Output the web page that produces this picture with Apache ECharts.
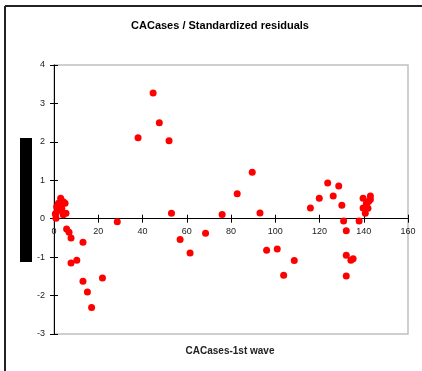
<!DOCTYPE html>
<html>
<head>
<meta charset="utf-8">
<script src="https://cdn.jsdelivr.net/npm/echarts@6/dist/echarts.min.js"></script>
<style>
  html, body { margin: 0; padding: 0; background: #fff; }
  #chart { width: 422px; height: 371px; }
</style>
</head>
<body>
<div id="chart"></div>
<script>
// First-wave case counts and the standardized residual of each observation
const caseCounts = [
  0.6, 0.9, 0.9, 1.2, 2.0, 2.4, 3.0, 3.5, 4.2, 4.2, 5.0, 5.4,
  5.7, 6.8, 7.7, 13.1, 28.6, 10.3, 7.7, 21.9, 13.1, 15.1, 17.0,
  38.0, 44.8, 47.6, 52.0, 53.1, 57.0, 61.5, 68.5, 76.0, 82.8, 89.6,
  93.1, 96.1, 100.9, 103.8, 108.6, 115.9, 119.9, 123.7, 126.2, 128.7,
  130.1, 130.9, 132.1, 132.1, 132.1, 134.2, 135.2, 137.9,
  139.7, 143.0, 143.0, 142.2, 141.2, 139.7, 141.9, 140.7
];
const residuals = [
  0.12, 0.01, 0.14, 0.31, 0.40, 0.23, 0.53, 0.27, 0.44, 0.10, 0.40, 0.14,
  -0.27, -0.35, -0.50, -0.61, -0.08, -1.08, -1.15, -1.54, -1.63, -1.91, -2.31,
  2.11, 3.27, 2.50, 2.03, 0.14, -0.54, -0.89, -0.38, 0.11, 0.65, 1.21,
  0.15, -0.82, -0.79, -1.47, -1.09, 0.28, 0.53, 0.93, 0.59, 0.85,
  0.35, -0.06, -0.31, -0.95, -1.49, -1.08, -1.04, -0.06,
  0.53, 0.59, 0.50, 0.45, 0.40, 0.28, 0.27, 0.14
];
const xTicks = { min: 0, max: 160, step: 20 };
const yTicks = { min: -3, max: 4, step: 1 };

const FONT = '"Liberation Sans", Arial, sans-serif';
const points = caseCounts.map((x, i) => [x, residuals[i]]);

// plot frame, in pixels
const GRID = { left: 54, top: 65, right: 14, bottom: 37 };
const CHART_H = 371;
// distance from the bottom of the frame up to the residual = 0 line
const plotH = CHART_H - GRID.top - GRID.bottom;
const zeroLift = plotH * (0 - yTicks.min) / (yTicks.max - yTicks.min);

const chart = echarts.init(document.getElementById('chart'), null, { renderer: 'canvas' });

const labelStyle = { color: '#222', fontSize: 9, fontFamily: FONT };
const axisLineStyle = { color: '#000', width: 1 };

chart.setOption({
  animation: false,
  backgroundColor: '#fff',
  title: {
    text: 'CACases / Standardized residuals',
    left: 215, top: 15, textAlign: 'center',
    textStyle: { fontSize: 11, fontWeight: 'bold', color: '#000', fontFamily: FONT }
  },
  grid: Object.assign({
    show: true, borderColor: '#c0c0c0', borderWidth: 1.5, backgroundColor: '#fff'
  }, GRID),
  xAxis: [
    {
      // main horizontal axis, raised to the residual = 0 line
      type: 'value', min: xTicks.min, max: xTicks.max, interval: xTicks.step,
      position: 'bottom', offset: -zeroLift,
      axisLine: { onZero: false, lineStyle: axisLineStyle },
      axisTick: { show: true, length: 4, lineStyle: axisLineStyle },
      axisLabel: Object.assign({ margin: 8 }, labelStyle),
      splitLine: { show: false }
    },
    {
      // inner half of the crossing tick marks
      type: 'value', min: xTicks.min, max: xTicks.max, interval: xTicks.step,
      position: 'bottom', offset: -zeroLift,
      axisLine: { show: false, onZero: false },
      axisTick: { show: true, inside: true, length: 4, lineStyle: axisLineStyle },
      axisLabel: { show: false },
      splitLine: { show: false }
    }
  ],
  yAxis: [
    {
      type: 'value', min: yTicks.min, max: yTicks.max, interval: yTicks.step,
      position: 'left',
      axisLine: { show: true, onZero: false, lineStyle: axisLineStyle },
      axisTick: { show: true, length: 4, lineStyle: axisLineStyle },
      axisLabel: Object.assign({ margin: 9 }, labelStyle),
      splitLine: { show: false }
    },
    {
      type: 'value', min: yTicks.min, max: yTicks.max, interval: yTicks.step,
      position: 'left',
      axisLine: { show: false, onZero: false },
      axisTick: { show: true, inside: true, length: 4, lineStyle: axisLineStyle },
      axisLabel: { show: false },
      splitLine: { show: false }
    }
  ],
  series: [{
    type: 'scatter',
    xAxisIndex: 0, yAxisIndex: 0,
    data: points,
    symbol: 'circle',
    symbolSize: 7,
    itemStyle: { color: '#ff0000', opacity: 1 },
    z: 5
  }],
  graphic: [
    // frame around the chart area
    { type: 'line', shape: { x1: 5, y1: 6, x2: 422, y2: 6 },
      style: { stroke: '#222', lineWidth: 2 }, silent: true },
    { type: 'line', shape: { x1: 5, y1: 6, x2: 5, y2: 371 },
      style: { stroke: '#222', lineWidth: 2 }, silent: true },
    // vertical axis title block
    { type: 'rect', shape: { x: 20, y: 138, width: 12, height: 124 },
      style: { fill: '#000' }, silent: true },
    // horizontal axis title, below the plot frame
    { type: 'text', x: 230, y: 351,
      style: { text: 'CACases-1st wave', fill: '#222', fontSize: 10, fontWeight: 'bold',
               fontFamily: FONT, align: 'center', verticalAlign: 'middle' },
      silent: true }
  ]
});
</script>
</body>
</html>
